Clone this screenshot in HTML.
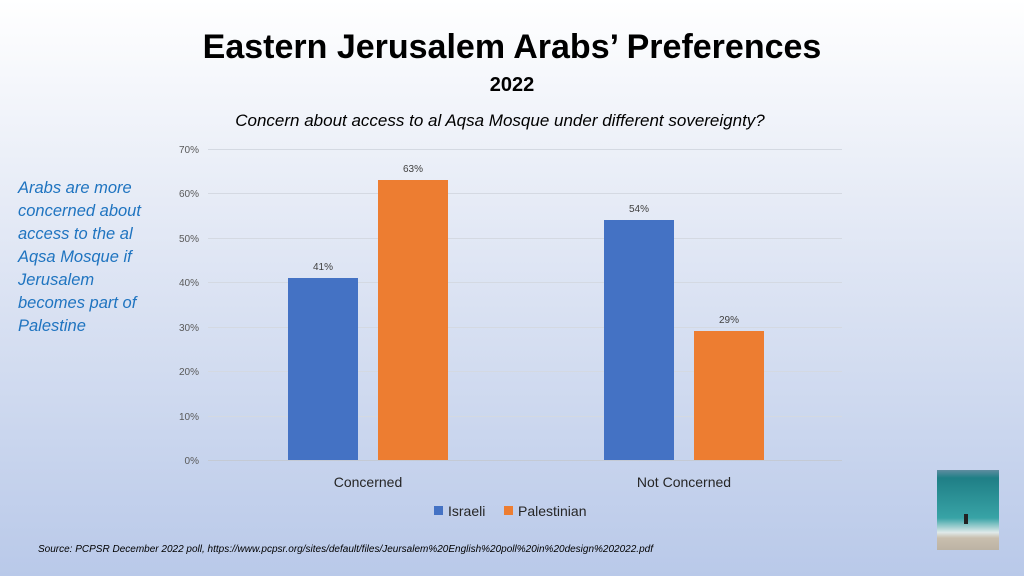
<!DOCTYPE html>
<html><head><meta charset="utf-8"><style>
body{margin:0;width:1024px;height:576px;overflow:hidden;background:linear-gradient(#ffffff 0%,#e6ebf6 35%,#b9c9e9 100%);font-family:"Liberation Sans","DejaVu Sans",sans-serif;position:relative}
.t{position:absolute;left:0;width:1024px;text-align:center}
</style></head><body>
<div class="t" style="top:28px;font-size:34px;font-weight:bold;color:#000">Eastern Jerusalem Arabs’ Preferences</div>
<div class="t" style="top:74px;font-size:20px;font-weight:bold;color:#000">2022</div>
<div class="t" style="top:111px;left:-12px;font-size:17px;font-style:italic;color:#000">Concern about access to al Aqsa Mosque under different sovereignty?</div>
<div style="position:absolute;left:18px;top:177px;width:140px;font-size:16.5px;line-height:23px;font-style:italic;color:#1f74c0">Arabs are more concerned about access to the al Aqsa Mosque if Jerusalem becomes part of Palestine</div>
<svg width="1024" height="576" style="position:absolute;left:0;top:0" font-family="Liberation Sans, sans-serif">
<g stroke="#d4d9e2" stroke-width="1">
<line x1="208" x2="842" y1="149.5" y2="149.5"/><line x1="208" x2="842" y1="193.5" y2="193.5"/><line x1="208" x2="842" y1="238.5" y2="238.5"/><line x1="208" x2="842" y1="282.5" y2="282.5"/><line x1="208" x2="842" y1="327.5" y2="327.5"/><line x1="208" x2="842" y1="371.5" y2="371.5"/><line x1="208" x2="842" y1="416.5" y2="416.5"/><line x1="208" x2="842" y1="460.5" y2="460.5" stroke="#c4cad4"/>
</g>
<g font-size="10" fill="#595959" text-anchor="end">
<text x="199" y="153">70%</text><text x="199" y="197">60%</text><text x="199" y="242">50%</text><text x="199" y="286">40%</text><text x="199" y="331">30%</text><text x="199" y="375">20%</text><text x="199" y="420">10%</text><text x="199" y="464">0%</text>
</g>
<rect x="288" y="278" width="70" height="182" fill="#4472c4"/>
<rect x="378" y="180" width="70" height="280" fill="#ed7d31"/>
<rect x="604" y="220" width="70" height="240" fill="#4472c4"/>
<rect x="694" y="331" width="70" height="129" fill="#ed7d31"/>
<g font-size="10" fill="#404040" text-anchor="middle">
<text x="323" y="270">41%</text><text x="413" y="172">63%</text><text x="639" y="212">54%</text><text x="729" y="323">29%</text>
</g>
<g font-size="14" fill="#262626" text-anchor="middle">
<text x="368" y="487">Concerned</text><text x="684" y="487">Not Concerned</text>
</g>
<rect x="434" y="506" width="9" height="9" fill="#4472c4"/>
<text x="448" y="516" font-size="14" fill="#262626">Israeli</text>
<rect x="504" y="506" width="9" height="9" fill="#ed7d31"/>
<text x="518" y="516" font-size="14" fill="#262626">Palestinian</text>
<text x="38" y="552" font-size="10" font-style="italic" fill="#000">Source: PCPSR December 2022  poll, https://www.pcpsr.org/sites/default/files/Jeursalem%20English%20poll%20in%20design%202022.pdf</text>
<defs><linearGradient id="sea" x1="0" y1="0" x2="0" y2="1"><stop offset="0" stop-color="#5f8da0"/><stop offset="0.1" stop-color="#1f7f86"/><stop offset="0.6" stop-color="#38a3a6"/><stop offset="0.78" stop-color="#dfe9e9"/><stop offset="0.85" stop-color="#c9bfae"/><stop offset="1" stop-color="#bcb3a4"/></linearGradient></defs>
<rect x="937" y="470" width="62" height="80" fill="url(#sea)"/>
<rect x="964" y="514" width="4" height="10" fill="#222"/>
</svg>
</body></html>
